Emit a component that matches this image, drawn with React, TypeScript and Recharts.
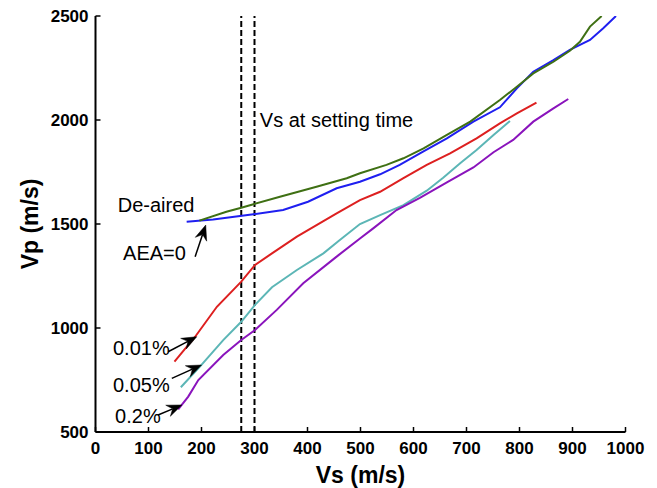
import React from 'react';
import { LineChart, Line, XAxis, YAxis, ReferenceLine, ReferenceDot } from 'recharts';

const FONT = "'Liberation Sans', Arial, Helvetica, sans-serif";

const xTicks = [0, 100, 200, 300, 400, 500, 600, 700, 800, 900, 1000];
const yTicks = [500, 1000, 1500, 2000, 2500];

const deairedVs = [172, 222, 298, 354, 401, 455, 499, 537, 574, 618, 663, 713, 763, 795, 826, 864, 895, 933, 958, 982];
const deairedVp = [1511, 1522, 1547, 1567, 1607, 1672, 1703, 1739, 1784, 1848, 1912, 1992, 2061, 2152, 2232, 2288, 2337, 2385, 2441, 2500];

const aea0Vs = [196, 247, 275, 298, 348, 417, 474, 499, 549, 581, 619, 663, 707, 763, 795, 826, 864, 895, 914, 933, 955];
const aea0Vp = [1516, 1559, 1578, 1595, 1631, 1679, 1720, 1744, 1784, 1816, 1864, 1928, 1992, 2096, 2160, 2224, 2280, 2333, 2376, 2449, 2500];

const aea001Vs = [149, 188, 229, 275, 301, 333, 380, 455, 499, 537, 581, 625, 669, 719, 763, 795, 832];
const aea001Vp = [838, 958, 1102, 1223, 1303, 1359, 1439, 1551, 1615, 1655, 1720, 1784, 1840, 1912, 1984, 2032, 2083];

const aea005Vs = [161, 197, 241, 275, 301, 333, 380, 430, 461, 499, 537, 581, 625, 656, 688, 719, 751, 782];
const aea005Vp = [715, 814, 942, 1030, 1111, 1196, 1279, 1359, 1423, 1500, 1543, 1591, 1660, 1722, 1792, 1856, 1928, 1995];

const aea02Vs = [156, 175, 194, 241, 275, 301, 342, 392, 455, 499, 524, 568, 612, 663, 713, 751, 788, 826, 864, 892];
const aea02Vp = [609, 670, 750, 870, 942, 990, 1087, 1215, 1343, 1430, 1479, 1567, 1626, 1700, 1772, 1845, 1904, 1992, 2056, 2101];

const settingTimeVs = [275, 300];

const labelTexts = ['De-aired', 'AEA=0', '0.01%', '0.05%', '0.2%', 'Vs at setting time'];
const labelVs = [42, 52, 33, 33, 37, 310];
const labelVp = [1559, 1327, 870, 694, 543, 1966];

const arrowFromVs = [188, 137, 144, 118];
const arrowFromVp = [1343, 886, 758, 582];
const arrowToVs = [208, 191, 200, 163];
const arrowToVp = [1495, 958, 822, 630];

const zip = (xs: number[], ys: number[]) => xs.map((x, i) => ({ vs: x, vp: ys[i] }));

const series = [
  { name: 'De-aired', data: zip(deairedVs, deairedVp), color: '#1f1ff0' },
  { name: 'AEA=0', data: zip(aea0Vs, aea0Vp), color: '#3f7014' },
  { name: '0.01%', data: zip(aea001Vs, aea001Vp), color: '#dd2020' },
  { name: '0.05%', data: zip(aea005Vs, aea005Vp), color: '#5cb6b6' },
  { name: '0.2%', data: zip(aea02Vs, aea02Vp), color: '#8a14bc' },
];

const XTick = (props: any) => {
  const { x, y, payload } = props;
  return (
    <g>
      <line x1={x} y1={y} x2={x} y2={y - 5} stroke="#000" strokeWidth={1.5} />
      <text x={x} y={y + 22} textAnchor="middle" fontFamily={FONT} fontWeight="bold" fontSize={17} fill="#000">
        {payload.value}
      </text>
    </g>
  );
};

const TopTick = (props: any) => {
  const { x, y } = props;
  return <line x1={x} y1={y} x2={x} y2={y + 5} stroke="#000" strokeWidth={1.5} />;
};

const YTick = (props: any) => {
  const { x, y, payload } = props;
  return (
    <g>
      <line x1={x} y1={y} x2={x + 5} y2={y} stroke="#000" strokeWidth={1.5} />
      <text x={x - 7} y={y + 6} textAnchor="end" fontFamily={FONT} fontWeight="bold" fontSize={17} fill="#000">
        {payload.value}
      </text>
    </g>
  );
};

const RightTick = (props: any) => {
  const { x, y } = props;
  return <line x1={x} y1={y} x2={x - 5} y2={y} stroke="#000" strokeWidth={1.5} />;
};

const XTitle = (props: any) => {
  const { x, y, width } = props.viewBox;
  return (
    <text x={x + width / 2} y={y + 51} textAnchor="middle" fontFamily={FONT} fontWeight="bold" fontSize={23} fill="#000">
      Vs (m/s)
    </text>
  );
};

const YTitle = (props: any) => {
  const { x, y, height } = props.viewBox;
  const cx = x + 22.5;
  const cy = y + height / 2;
  return (
    <text x={cx} y={cy} transform={`rotate(-90 ${cx} ${cy})`} textAnchor="middle" fontFamily={FONT} fontWeight="bold" fontSize={23} fill="#000">
      Vp (m/s)
    </text>
  );
};

const Arrow = (props: any) => {
  const { x1, y1, x2, y2 } = props;
  const dx = x2 - x1;
  const dy = y2 - y1;
  const len = Math.sqrt(dx * dx + dy * dy) || 1;
  const ux = dx / len;
  const uy = dy / len;
  const px = -uy;
  const py = ux;
  const headLen = 15;
  const headW = 6;
  const notch = 10;
  const bx = x2 - ux * headLen;
  const by = y2 - uy * headLen;
  const nx = x2 - ux * notch;
  const ny = y2 - uy * notch;
  const pts = `${x2},${y2} ${bx + px * headW},${by + py * headW} ${nx},${ny} ${bx - px * headW},${by - py * headW}`;
  return (
    <g>
      <line x1={x1} y1={y1} x2={nx} y2={ny} stroke="#000" strokeWidth={1.5} />
      <polygon points={pts} fill="#000" stroke="#000" strokeWidth={0.5} />
    </g>
  );
};

const makeTextShape = (text: string) => (props: any) => (
  <text x={props.cx} y={props.cy} textAnchor="start" fontFamily={FONT} fontSize={20} fill="#000">
    {text}
  </text>
);

export default function App() {
  return (
    <LineChart width={649} height={480} margin={{ top: 8, right: 31.5, bottom: 8, left: 7.5 }}>
      <XAxis
        xAxisId={0}
        type="number"
        dataKey="vs"
        domain={[0, 1000]}
        ticks={xTicks}
        interval={0}
        allowDataOverflow
        height={48}
        tickSize={0}
        tickMargin={0}
        tickLine={false}
        tick={(p: any) => <XTick {...p} />}
        axisLine={{ stroke: '#000', strokeWidth: 2 }}
        label={{ content: (p: any) => <XTitle {...p} /> }}
      />
      <XAxis
        xAxisId="top"
        orientation="top"
        type="number"
        dataKey="vs"
        domain={[0, 1000]}
        ticks={xTicks}
        interval={0}
        allowDataOverflow
        height={0}
        tickSize={0}
        tickMargin={0}
        tickLine={false}
        tick={(p: any) => <TopTick {...p} />}
        axisLine={{ stroke: '#000', strokeWidth: 2 }}
      />
      <YAxis
        yAxisId={0}
        type="number"
        domain={[500, 2500]}
        ticks={yTicks}
        interval={0}
        allowDataOverflow
        width={80}
        tickSize={0}
        tickMargin={0}
        tickLine={false}
        tick={(p: any) => <YTick {...p} />}
        axisLine={{ stroke: '#000', strokeWidth: 2 }}
        label={{ content: (p: any) => <YTitle {...p} /> }}
      />
      <YAxis
        yAxisId="right"
        orientation="right"
        type="number"
        domain={[500, 2500]}
        ticks={yTicks}
        interval={0}
        allowDataOverflow
        width={0}
        tickSize={0}
        tickMargin={0}
        tickLine={false}
        tick={(p: any) => <RightTick {...p} />}
        axisLine={{ stroke: '#000', strokeWidth: 2 }}
      />
      {settingTimeVs.map((v) => (
        <ReferenceLine key={v} x={v} stroke="#000" strokeWidth={2} strokeDasharray="6 3" />
      ))}
      {series.map((s) => (
        <Line
          key={s.name}
          data={s.data}
          dataKey="vp"
          name={s.name}
          type="linear"
          stroke={s.color}
          strokeWidth={2}
          dot={false}
          activeDot={false}
          isAnimationActive={false}
        />
      ))}
      {arrowFromVs.map((v, i) => (
        <ReferenceLine
          key={'arrow' + i}
          segment={[
            { x: v, y: arrowFromVp[i] },
            { x: arrowToVs[i], y: arrowToVp[i] },
          ]}
          shape={(p: any) => <Arrow {...p} />}
        />
      ))}
      {labelTexts.map((t, i) => (
        <ReferenceDot key={t} x={labelVs[i]} y={labelVp[i]} r={0} shape={makeTextShape(t)} />
      ))}
    </LineChart>
  );
}
